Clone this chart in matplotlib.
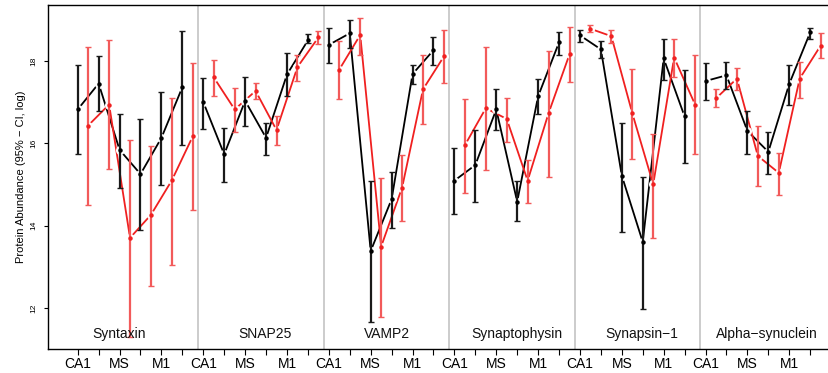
import matplotlib
matplotlib.use("Agg")
import matplotlib.pyplot as plt
import numpy as np

plt.rcParams['font.family'] = ['Liberation Sans', 'DejaVu Sans']

proteins = ["Syntaxin", "SNAP25", "VAMP2", "Synaptophysin", "Synapsin\u22121", "Alpha\u2212synuclein"]
regions = ["CA1", "", "MS", "", "M1", ""]

# black series: mean, upper, lower (per protein, 6 regions)
black_mean = [
    [16.82, 17.45, 15.84, 15.25, 16.13, 17.36],
    [17.00, 15.73, 17.03, 16.13, 17.67, 18.50],
    [18.39, 18.67, 13.38, 14.64, 17.68, 18.26],
    [15.09, 15.47, 16.82, 14.58, 17.14, 18.45],
    [18.62, 18.28, 15.21, 13.60, 18.06, 16.65],
    [17.51, 17.65, 16.30, 15.79, 17.44, 18.69],
]
black_hi = [
    [17.91, 18.12, 16.71, 16.59, 17.25, 18.73],
    [17.59, 16.38, 17.61, 16.50, 18.18, 18.65],
    [18.79, 18.99, 15.09, 15.30, 17.91, 18.57],
    [15.89, 16.33, 17.31, 15.07, 17.55, 18.70],
    [18.74, 18.49, 16.50, 15.19, 18.54, 17.77],
    [17.94, 17.97, 16.79, 16.27, 17.90, 18.80],
]
black_lo = [
    [15.73, 16.79, 14.92, 13.90, 14.99, 15.95],
    [16.35, 15.06, 16.42, 15.71, 17.15, 18.44],
    [17.95, 18.31, 11.65, 13.94, 17.44, 17.90],
    [14.29, 14.58, 16.31, 14.12, 16.70, 18.15],
    [18.45, 18.06, 13.85, 11.98, 17.53, 15.52],
    [17.05, 17.31, 15.74, 15.25, 16.94, 18.54],
]
red_mean = [
    [16.43, 16.94, 13.70, 14.26, 15.10, 16.17],
    [17.60, 16.82, 17.27, 16.32, 17.85, 18.57],
    [17.79, 18.63, 13.49, 14.92, 17.31, 18.11],
    [15.95, 16.85, 16.59, 15.09, 16.73, 18.16],
    [18.78, 18.60, 16.73, 15.00, 18.08, 16.94],
    [17.09, 17.57, 15.69, 15.28, 17.57, 18.37],
]
red_hi = [
    [18.34, 18.50, 16.08, 15.94, 17.10, 17.94],
    [18.02, 17.35, 17.46, 16.66, 18.14, 18.72],
    [18.48, 19.05, 15.16, 15.72, 18.15, 18.75],
    [17.07, 18.33, 17.10, 15.59, 18.24, 18.82],
    [18.87, 18.75, 17.80, 16.22, 18.53, 18.15],
    [17.31, 17.83, 16.41, 15.77, 17.98, 18.67],
]
red_lo = [
    [14.50, 15.38, 11.30, 12.54, 13.04, 14.38],
    [17.14, 16.27, 17.07, 15.96, 17.51, 18.40],
    [17.07, 18.14, 11.77, 14.12, 16.47, 17.46],
    [14.79, 15.35, 16.03, 14.54, 15.19, 17.49],
    [18.69, 18.44, 15.62, 13.70, 17.61, 15.74],
    [16.87, 17.29, 14.95, 14.75, 17.11, 18.07],
]
yticks = [12, 14, 16, 18]

label_offsets = [1.97, 2.95, 2.76, 3.0, 2.95, 2.92]

fig = plt.figure(figsize=(8.29, 3.73), dpi=100)
ax = fig.add_axes([48/829, 1 - 349/373, 1 - 48/829, (349 - 4.5)/373])

n = len(regions)
series = [
    (black_mean, black_hi, black_lo, 0.0, 'black', '#1a1a1a'),
    (red_mean, red_hi, red_lo, 0.5, '#f02020', '#f25a5a'),
]

for p in range(len(proteins)):
    base = p * n
    for mean, hi, lo, off, lc, ec in series:
        x = np.arange(n) + base + off
        m = np.array(mean[p])
        ax.plot(x, m, color=lc, lw=1.3, zorder=2)
        ax.plot(x, m, 'o', color='white', ms=6.5, mec='none', zorder=3)
    for mean, hi, lo, off, lc, ec in series:
        x = np.arange(n) + base + off
        m = np.array(mean[p])
        h = np.array(hi[p]); l = np.array(lo[p])
        ax.errorbar(x, m, yerr=[m - l, h - m], fmt='none', ecolor=ec,
                    elinewidth=1.6, capsize=2, capthick=1.0, zorder=4)
        ax.plot(x, m, 'o', color=lc, ms=3.2, mec='none', zorder=5)
    ax.text(base + label_offsets[p], 11.37, proteins[p], ha='center', va='center',
            fontsize=10, color='#111111', zorder=6)
    if p < len(proteins) - 1:
        ax.axvline(base + n - 0.25, color='#c8c8c8', lw=1.3, zorder=1)

ax.set_xlim(-1.42, 35.9)
ax.set_ylim(11.0, 19.37)

ax.set_xticks(np.arange(n * len(proteins)))
ax.set_xticklabels(regions * len(proteins), fontsize=10)
ax.tick_params(axis='x', length=4, width=0.8, pad=1.5, color='black')

ax.set_yticks(yticks)
ax.set_yticklabels([str(v) for v in yticks], rotation=90, va='center', fontsize=6)
ax.tick_params(axis='y', length=3, width=0.8, pad=5)

ax.set_ylabel("Protein Abundance (95% \u2212 CI, log)", fontsize=8, labelpad=3)

for s in ['left', 'bottom', 'top']:
    ax.spines[s].set_linewidth(1.0)
ax.spines['right'].set_visible(False)

fig.savefig("out.png", dpi=100)
